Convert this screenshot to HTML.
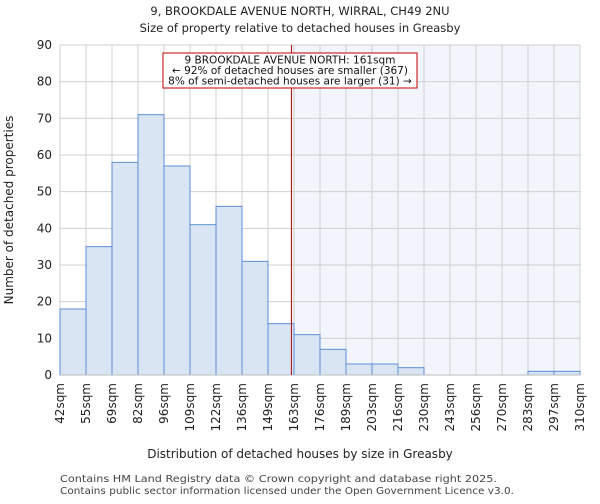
<!DOCTYPE html>
<html><head><style>
body{margin:0;background:#fff;font-family:"DejaVu Sans","Liberation Sans",sans-serif;}
svg text{font-family:"DejaVu Sans","Liberation Sans",sans-serif;}
</style></head><body>
<svg id="c" width="600" height="500" xmlns="http://www.w3.org/2000/svg">
<text x="300" y="15" text-anchor="middle" font-size="11.5" fill="#222">9, BROOKDALE AVENUE NORTH, WIRRAL, CH49 2NU</text>
<text x="300" y="32" text-anchor="middle" font-size="11.5" fill="#222">Size of property relative to detached houses in Greasby</text>
<g id="plot"></g>
<text x="300" y="458" text-anchor="middle" font-size="12" fill="#222">Distribution of detached houses by size in Greasby</text>
<text x="13" y="210" text-anchor="middle" font-size="12" fill="#222" transform="rotate(-90 13 210)">Number of detached properties</text>
<text x="60" y="482" font-size="10" textLength="437" lengthAdjust="spacingAndGlyphs" fill="#444">Contains HM Land Registry data © Crown copyright and database right 2025.</text>
<text x="60" y="494" font-size="10" textLength="454" lengthAdjust="spacingAndGlyphs" fill="#444">Contains public sector information licensed under the Open Government Licence v3.0.</text>
</svg>
<script>
const tickLabels=["42sqm","55sqm","69sqm","82sqm","96sqm","109sqm","122sqm","136sqm","149sqm","163sqm","176sqm","189sqm","203sqm","216sqm","230sqm","243sqm","256sqm","270sqm","283sqm","297sqm","310sqm"];
const counts=[18,35,58,71,57,41,46,31,14,11,7,3,3,2,0,0,0,0,1,1];
const yTicks=[0,10,20,30,40,50,60,70,80,90];
const markerIndex=8.9;
const NS="http://www.w3.org/2000/svg";
const L=60,R=580,T=45,B=375,yMax=90;
const bw=(R-L)/counts.length;
const xs=i=>L+i*bw;
const ys=v=>B-v/yMax*(B-T);
const g=document.getElementById('plot');
function mk(t,a){const e=document.createElementNS(NS,t);for(const k in a)e.setAttribute(k,a[k]);g.appendChild(e);return e;}
const mx=xs(markerIndex);
let e=mk('rect',{x:mx,y:T,width:R-mx,height:B-T,fill:'#f2f5fc'});


yTicks.forEach(v=>{
 let l=mk('line',{x1:L,x2:R,y1:ys(v),y2:ys(v),stroke:'#d0d0d0'});
 
 
 let t=mk('text',{x:L-8,y:ys(v)+4,'text-anchor':'end','font-size':12,fill:'#222'});
 t.textContent=v;
 
 
});
tickLabels.forEach((s,i)=>{
 let l=mk('line',{x1:xs(i),x2:xs(i),y1:T,y2:B,stroke:'#d0d0d0'});
 
 
 const x=xs(i),y=B+8;
 let t=mk('text',{x:x+4,y:y,'text-anchor':'end','font-size':12,fill:'#222',transform:`rotate(-90 ${x+4} ${y})`});
 t.textContent=s;
 
 
});
counts.forEach((v,i)=>{
 if(v<=0)return;
 let r=mk('rect',{x:xs(i),y:ys(v),width:bw,height:B-ys(v),fill:'#dae5f4',stroke:'#5b8fd6','stroke-width':1});
 
 
});
e=mk('line',{x1:L,x2:R,y1:B,y2:B,stroke:'#bbb'});


e=mk('line',{x1:mx,x2:mx,y1:T,y2:B,stroke:'#b00000','stroke-width':1});


e=mk('rect',{x:163,y:53,width:254,height:35,fill:'#fff',stroke:'#c00000','stroke-width':1});


["9 BROOKDALE AVENUE NORTH: 161sqm","← 92% of detached houses are smaller (367)","8% of semi-detached houses are larger (31) →"].forEach((s,i)=>{
 let t=mk('text',{x:290,y:63.5+i*10.5,'text-anchor':'middle','font-size':10.5,fill:'#111'});
 t.textContent=s;
 
 
});
</script>
</body></html>
